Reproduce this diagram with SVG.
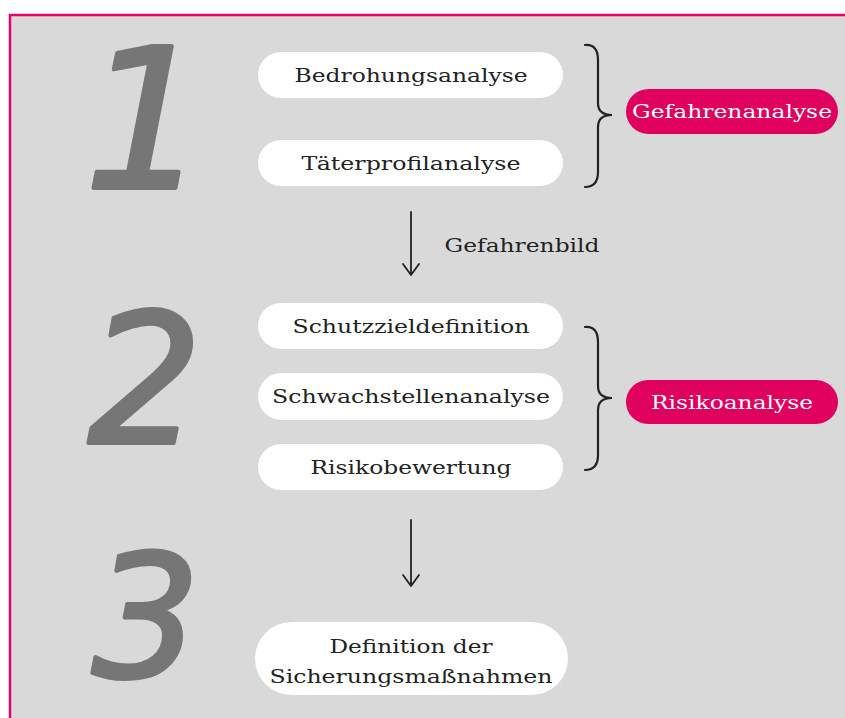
<svg xmlns="http://www.w3.org/2000/svg" width="845" height="718" viewBox="0 0 845 718">
<defs>
<style>
.bg{fill:#d9d9d9}
.frame{fill:none;stroke:#e8006a;stroke-width:2.5}
.pill{fill:#ffffff}
.tag{fill:#e0005e}
.t{font-family:"DejaVu Serif","Liberation Serif",serif;font-size:19px;fill:#222;text-anchor:middle}
.tw{font-family:"DejaVu Serif","Liberation Serif",serif;font-size:19px;fill:#ffffff;text-anchor:middle}
.num{font-family:"DejaVu Sans","Liberation Sans",sans-serif;font-weight:normal;font-style:italic;fill:#767676;stroke:#767676;stroke-width:4;stroke-linejoin:round;text-anchor:middle}
.brace{fill:none;stroke:#222;stroke-width:2.2;stroke-linecap:round}
.arrow{fill:none;stroke:#222;stroke-width:1.8;stroke-linecap:round;stroke-linejoin:round}
</style>
</defs>
<rect x="0" y="0" width="845" height="718" fill="#ffffff"/>
<rect class="bg" x="10" y="15" width="840" height="710"/>
<path class="frame" d="M10,725 L10,15 L850,15"/>

<g id="num1"><text class="num" x="146" y="188" font-size="195">1</text></g>
<g id="num2"><text class="num" x="145" y="443" font-size="180">2</text></g>
<g id="num3"><text class="num" x="146" y="677" font-size="170">3</text></g>

<g id="bedrohungsanalyse"><rect class="pill" x="258" y="52" width="305" height="46" rx="23"/><text class="t" x="411" y="82" textLength="233" lengthAdjust="spacingAndGlyphs">Bedrohungsanalyse</text></g>
<g id="taeterprofilanalyse"><rect class="pill" x="258" y="140" width="305" height="46" rx="23"/><text class="t" x="411" y="170" textLength="219" lengthAdjust="spacingAndGlyphs">Täterprofilanalyse</text></g>
<g id="gefahrenanalyse"><rect class="tag" x="626" y="89" width="212" height="45" rx="22.5"/><text class="tw" x="732" y="118" textLength="200" lengthAdjust="spacingAndGlyphs">Gefahrenanalyse</text></g>
<g id="gefahrenbild"><text class="t" x="522" y="252" textLength="155" lengthAdjust="spacingAndGlyphs">Gefahrenbild</text></g>
<g id="schutzzieldefinition"><rect class="pill" x="258" y="303" width="305" height="46" rx="23"/><text class="t" x="411" y="333" textLength="237" lengthAdjust="spacingAndGlyphs">Schutzzieldefinition</text></g>
<g id="schwachstellenanalyse"><rect class="pill" x="258" y="373" width="305" height="47" rx="23.5"/><text class="t" x="411" y="403" textLength="278" lengthAdjust="spacingAndGlyphs">Schwachstellenanalyse</text></g>
<g id="risikobewertung"><rect class="pill" x="258" y="444" width="305" height="46" rx="23"/><text class="t" x="411" y="474" textLength="201" lengthAdjust="spacingAndGlyphs">Risikobewertung</text></g>
<g id="risikoanalyse"><rect class="tag" x="626" y="380" width="212" height="44" rx="22"/><text class="tw" x="732" y="409" textLength="162" lengthAdjust="spacingAndGlyphs">Risikoanalyse</text></g>
<g id="sicherungsmassnahmen"><rect class="pill" x="255" y="622" width="313" height="73" rx="36.5"/><text class="t" x="411" y="653" textLength="163" lengthAdjust="spacingAndGlyphs">Definition der</text><text class="t" x="411" y="683" textLength="283" lengthAdjust="spacingAndGlyphs">Sicherungsmaßnahmen</text></g>

<g id="connectors">
<path class="brace" d="M585,45 Q598,44 598,60 L598,103 Q598,115 612,115 Q598,115 598,127 L598,172 Q598,187 585,187"/>
<path class="brace" d="M585,327 Q598,326 598,342 L598,386 Q598,398 612,398 Q598,398 598,410 L598,455 Q598,470 585,470"/>
<path class="arrow" d="M411,212 L411,275 M403,264 L411,275 L419,264"/>
<path class="arrow" d="M411,520 L411,586 M403,575 L411,586 L419,575"/>
</g>
</svg>
